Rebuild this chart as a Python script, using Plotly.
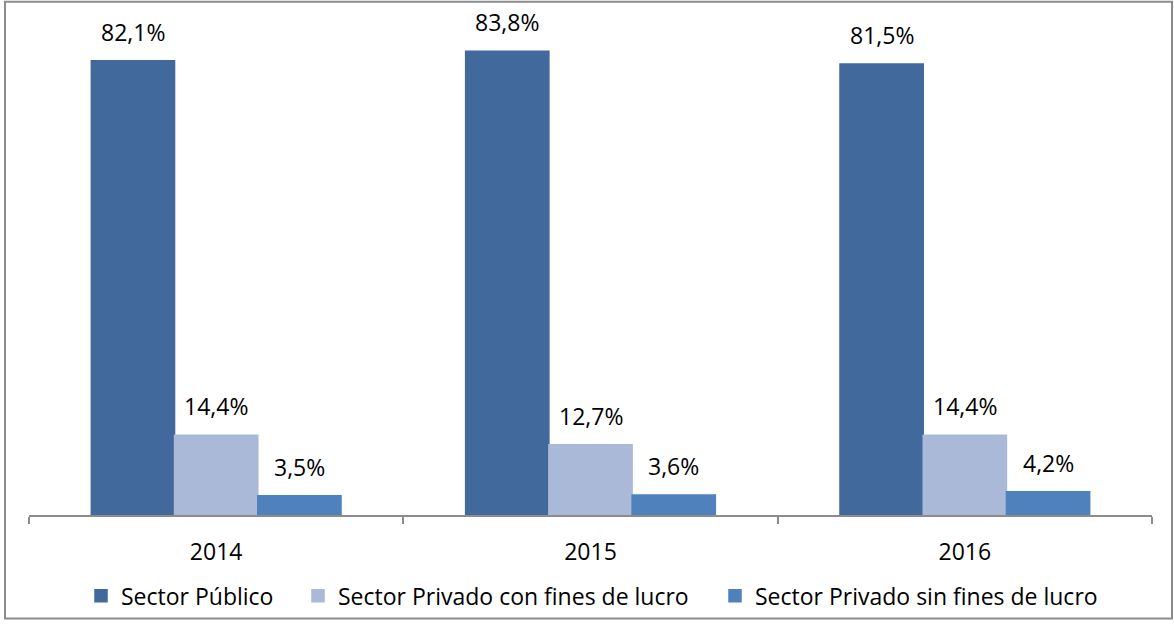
import plotly.graph_objects as go

years = ["2014", "2015", "2016"]
series_names = ["Sector Público", "Sector Privado con fines de lucro", "Sector Privado sin fines de lucro"]
publico = [82.1, 83.8, 81.5]
privado_lucro = [14.4, 12.7, 14.4]
privado_sin_lucro = [3.5, 3.6, 4.2]
colors = ["#41699C", "#AAB9D7", "#4F81BD"]

W, H = 1174, 629
ml, mr, mt, mb = 29, 22, 17, 107
bargap = 0.333
font_family = "Open Sans, Lato, sans-serif"

def px_x(p):
    return (p - ml) / (W - ml - mr)
def px_y(p):
    return 1 - (p - mt) / (H - mt - mb)

fig = go.Figure()
all_series = [publico, privado_lucro, privado_sin_lucro]
legend_ids = ["legend", "legend2", "legend3"]
legend_left = [94, 311, 728]  # where each legend swatch starts, like the Excel one
for name, vals, c, lg in zip(series_names, all_series, colors, legend_ids):
    fig.add_trace(go.Bar(x=years, y=vals, name=name, marker_color=c,
                         marker_line_color=c, marker_line_width=1.5, legend=lg))

# data labels as annotations so there's a gap above each bar like in Excel
# (category axis -> annotation x is the category index, "2014" would be read as a number)
cat_px = (W - ml - mr) / len(years)
bar_px = cat_px * (1 - bargap) / len(all_series)
for i, vals in enumerate(all_series):
    for j, v in enumerate(vals):
        fig.add_annotation(x=j, y=v, xref="x", yref="y",
                           text=f"{v:.1f}%".replace(".", ","),
                           showarrow=False, yanchor="bottom",
                           xshift=(i - 1) * bar_px, yshift=11,
                           font=dict(size=23, color="#000000", family=font_family))

# outer frame
fig.add_shape(type="rect", xref="paper", yref="paper",
              x0=px_x(5), x1=px_x(1172), y0=px_y(627), y1=px_y(1.5),
              line=dict(color="#8C8C8C", width=2), fillcolor="rgba(0,0,0,0)")

legend_style = dict(orientation="h", xanchor="left", yanchor="middle", y=px_y(604),
                    font=dict(size=23), itemwidth=30, bgcolor="rgba(0,0,0,0)")
fig.update_layout(
    width=W, height=H,
    margin=dict(l=ml, r=mr, t=mt, b=mb),
    barmode="group", bargap=bargap, bargroupgap=0,
    plot_bgcolor="white", paper_bgcolor="white",
    font=dict(family=font_family, size=23, color="#000000"),
    showlegend=True,
    legend=dict(x=px_x(legend_left[0] - 13), **legend_style),
    legend2=dict(x=px_x(legend_left[1] - 13), **legend_style),
    legend3=dict(x=px_x(legend_left[2] - 13), **legend_style),
)
fig.update_xaxes(type="category", range=[-0.5, 2.5], showline=True,
                 linecolor="#8C8C8C", linewidth=2,
                 ticks="outside", tickson="boundaries", ticklen=7, tickwidth=2,
                 tickcolor="#8C8C8C", showgrid=False, ticklabelstandoff=15)
fig.update_yaxes(visible=False, range=[0, 90], showgrid=False, zeroline=False)

# page body has an 8px default margin, drop it so the figure sits at 0,0
fig.write_html("out.html", config={"displayModeBar": False},
               post_script="document.body.style.margin='0';"
                           "document.body.style.overflow='hidden';")
